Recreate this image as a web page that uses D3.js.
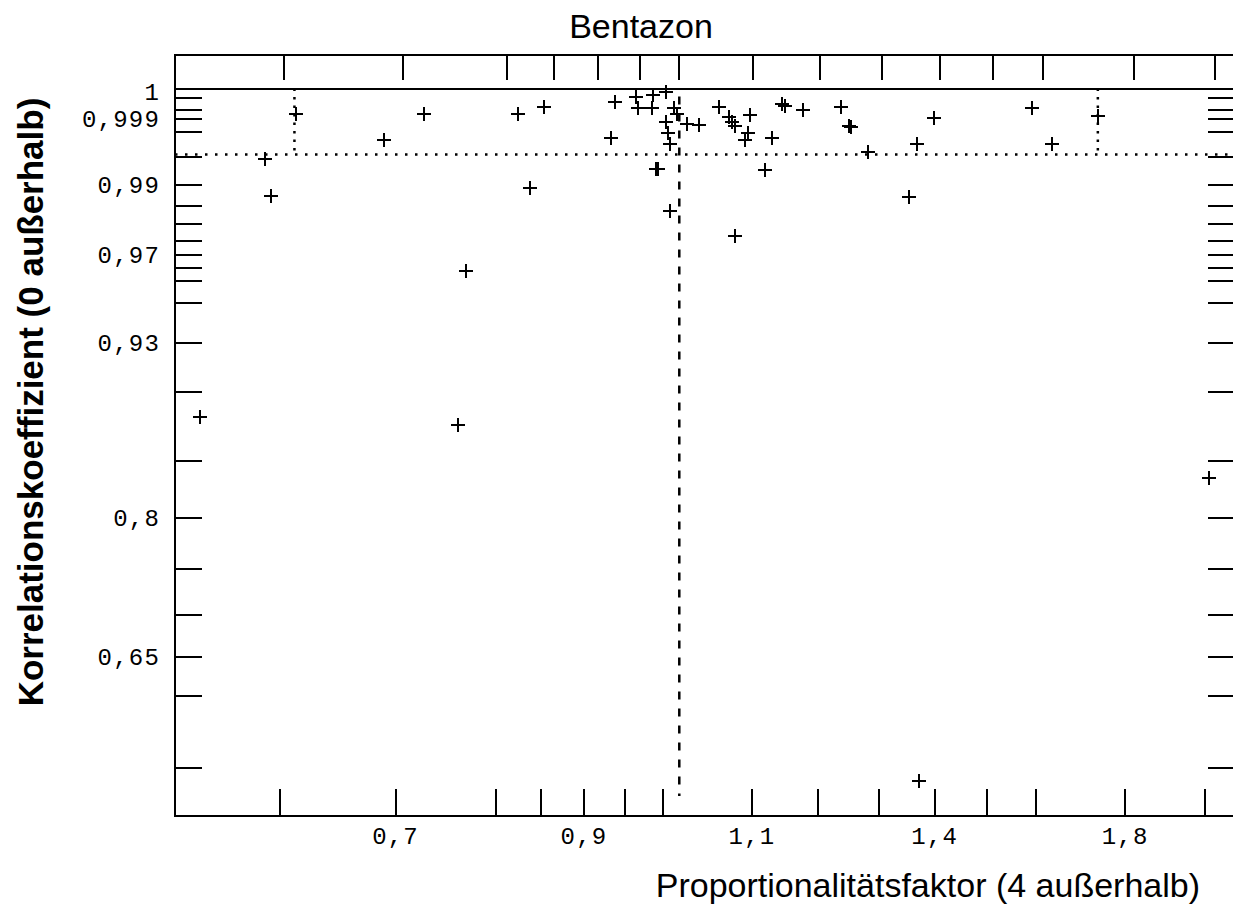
<!DOCTYPE html>
<html lang="de">
<head>
<meta charset="UTF-8">
<title>Bentazon</title>
<script src="https://d3js.org/d3.v7.min.js"></script>
<style>
  body { margin: 0; background: #fff; }
  svg { display: block; }
  .tick-label { font-family: "Liberation Mono", "Courier New", monospace; font-size: 24px; letter-spacing: 1.2px; fill: #000; }
  .title { font-family: "Liberation Sans", Arial, sans-serif; font-size: 34px; fill: #000; }
</style>
</head>
<body>
<script>

// Proportionalitätsfaktor (x) und Korrelationskoeffizient (y) je Messung
const faktor = [0.538, 0.585, 0.590, 0.609, 0.683, 0.719, 0.751, 0.759, 0.812, 0.824,
                0.840, 0.915, 0.920, 0.946, 0.948, 0.966, 0.965, 0.970, 0.973, 0.983,
                0.983, 0.985, 0.988, 0.988, 0.993, 0.997, 1.010, 1.026, 1.053, 1.067,
                1.070, 1.074, 1.075, 1.088, 1.093, 1.096, 1.117, 1.128, 1.142, 1.146,
                1.174, 1.232, 1.245, 1.249, 1.277, 1.345, 1.359, 1.363, 1.390, 1.577,
                1.620, 1.719, 1.984];
const korrelation = [0.883, 0.9946, 0.9876, 0.9993, 0.9971, 0.9993, 0.8775, 0.964, 0.9993, 0.9892,
                     0.99962, 0.9974, 0.99981, 0.99993, 0.9996, 0.99995, 0.9996, 0.993, 0.993, 0.99999,
                     0.99877, 0.99784, 0.99664, 0.98386, 0.99958, 0.9993, 0.99862, 0.99857, 0.99963, 0.99913,
                     0.99879, 0.99849, 0.9765, 0.9971, 0.99784, 0.99925, 0.99283, 0.9974, 0.99974, 0.99968,
                     0.9995, 0.99962, 0.99848, 0.99838, 0.99569, 0.9872, 0.99668, 0.4809, 0.99908, 0.9996,
                     0.99664, 0.9992, 0.836];

// Achsen
const xTicks = [0.6, 0.7, 0.8, 0.85, 0.9, 0.95, 1.0, 1.1, 1.2, 1.3, 1.4, 1.5, 1.6, 1.8, 2.0];
const xLabels = [0.7, 0.9, 1.1, 1.4, 1.8];
const yTicks = [0.9999, 0.9995, 0.999, 0.998, 0.995, 0.99, 0.985, 0.98, 0.975, 0.97, 0.965, 0.96,
                0.95, 0.93, 0.9, 0.85, 0.8, 0.75, 0.7, 0.65, 0.6, 0.5];
const yLabels = [1, 0.999, 0.99, 0.97, 0.93, 0.8, 0.65];

// Grenzen (gepunktet) und Sollwert (gestrichelt)
const grenzeR = 0.9953;
const grenzeX = [0.608, 1.718];
const sollX = 1.0;

const W = 1233, H = 907;
const pLeft = 175, pRight = 1236, pTop = 55, pBottom = 816, rTop = 88.6;

const komma = v => String(v).replace('.', ',');

const svg = d3.select('body').append('svg')
    .attr('width', W)
    .attr('height', H);

const xScale = d3.scaleLog().domain([0.521, 2.054]).range([pLeft, pRight]);
// untere Achse ist im Original leicht verschoben beschriftet
const xBottom = d3.scaleLog().domain([0.6, 1.0, 1.1, 2.0]).range([280, 663, 752, 1205]);
const ySqrt = d3.scaleSqrt().domain([0, 0.573]).range([rTop, pBottom]);
const yScale = r => ySqrt(1 - r);

const axes = svg.append('g')
    .attr('stroke', '#000')
    .attr('stroke-width', 2)
    .attr('shape-rendering', 'crispEdges');

axes.append('rect')
    .attr('x', pLeft).attr('y', pTop)
    .attr('width', pRight - pLeft).attr('height', pBottom - pTop)
    .attr('fill', 'none');

axes.append('line')
    .attr('x1', pLeft).attr('x2', pRight)
    .attr('y1', yScale(1)).attr('y2', yScale(1));

// x-Striche oben und unten
axes.selectAll('.tt').data(xTicks).enter().append('line')
    .attr('x1', d => Math.round(xScale(d))).attr('x2', d => Math.round(xScale(d)))
    .attr('y1', pTop).attr('y2', pTop + 25);
axes.selectAll('.tb').data(xTicks).enter().append('line')
    .attr('x1', d => Math.round(xBottom(d))).attr('x2', d => Math.round(xBottom(d)))
    .attr('y1', pBottom).attr('y2', pBottom - 27);

// y-Striche links und rechts
axes.selectAll('.tl').data(yTicks).enter().append('line')
    .attr('x1', pLeft).attr('x2', pLeft + 27)
    .attr('y1', d => Math.round(yScale(d))).attr('y2', d => Math.round(yScale(d)));
axes.selectAll('.tr').data(yTicks).enter().append('line')
    .attr('x1', pRight - 28).attr('x2', pRight)
    .attr('y1', d => Math.round(yScale(d))).attr('y2', d => Math.round(yScale(d)));

// Beschriftungen
svg.selectAll('.yl').data(yLabels).enter().append('text')
    .attr('class', 'tick-label')
    .attr('x', 160)
    .attr('y', d => yScale(d) + (d === 1 ? 11 : 8))
    .attr('text-anchor', 'end')
    .text(komma);

svg.selectAll('.xl').data(xLabels).enter().append('text')
    .attr('class', 'tick-label')
    .attr('x', d => xBottom(d))
    .attr('y', 844)
    .attr('text-anchor', 'middle')
    .text(komma);

// Grenzlinien
const guides = svg.append('g').attr('stroke', '#000').attr('fill', 'none');
guides.append('line')
    .attr('x1', pLeft).attr('x2', pRight)
    .attr('y1', yScale(grenzeR)).attr('y2', yScale(grenzeR))
    .attr('stroke-width', 2.5)
    .attr('stroke-dasharray', '2.5,7.5');
guides.selectAll('.gx').data(grenzeX).enter().append('line')
    .attr('x1', d => xScale(d)).attr('x2', d => xScale(d))
    .attr('y1', yScale(1)).attr('y2', yScale(grenzeR))
    .attr('stroke-width', 2.5)
    .attr('stroke-dasharray', '2.5,6');
guides.append('line')
    .attr('x1', xScale(sollX)).attr('x2', xScale(sollX))
    .attr('y1', yScale(1) + 8).attr('y2', pBottom - 20)
    .attr('stroke-width', 2.5)
    .attr('stroke-dasharray', '8,9');

// Messpunkte als Kreuze
const punkte = faktor.map((f, i) => ({ f: f, r: korrelation[i] }));
svg.append('g')
    .selectAll('path')
    .data(punkte)
    .enter()
    .append('path')
    .attr('d', d => {
        const x = Math.round(xScale(d.f)), y = Math.round(yScale(d.r));
        return `M${x - 7},${y}H${x + 7}M${x},${y - 7}V${y + 7}`;
    })
    .attr('stroke', '#000')
    .attr('stroke-width', 2)
    .attr('shape-rendering', 'crispEdges');

// Titel
svg.append('text')
    .attr('class', 'title')
    .attr('x', 641).attr('y', 38)
    .attr('text-anchor', 'middle')
    .text('Bentazon');

svg.append('text')
    .attr('class', 'title')
    .attr('x', 1200).attr('y', 897)
    .attr('text-anchor', 'end')
    .text('Proportionalitätsfaktor (4 außerhalb)');

svg.append('text')
    .attr('class', 'title')
    .attr('transform', 'translate(43,402) rotate(-90)')
    .attr('text-anchor', 'middle')
    .style('font-weight', 'bold')
    .style('font-size', '35px')
    .text('Korrelationskoeffizient (0 außerhalb)');

</script>
</body>
</html>
